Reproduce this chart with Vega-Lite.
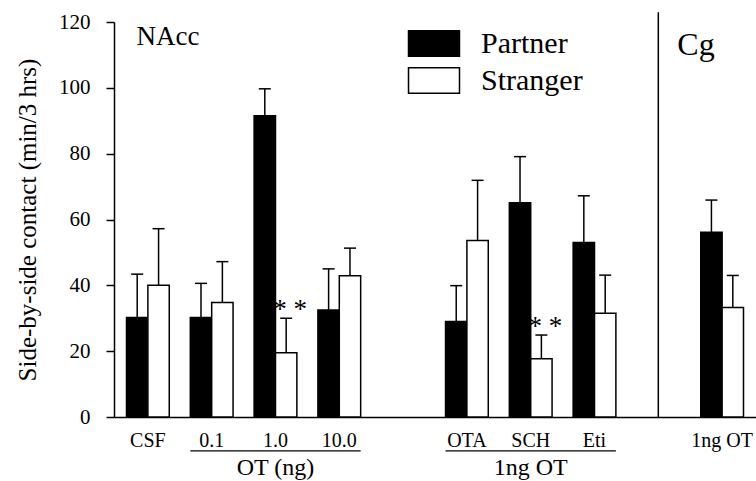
{
  "$schema": "https://vega.github.io/schema/vega-lite/v6.json",
  "width": 642,
  "height": 395,
  "autosize": "none",
  "padding": {"left": 114, "top": 22, "right": 0, "bottom": 64},
  "background": "white",
  "config": {
    "view": {"stroke": null},
    "font": "Liberation Serif",
    "axis": {"labelFont": "Liberation Serif", "titleFont": "Liberation Serif", "labelColor": "black", "titleColor": "black", "domainColor": "black", "tickColor": "black", "domainWidth": 1.5, "tickWidth": 1.5, "grid": false},
    "legend": {"labelFont": "Liberation Serif"},
    "text": {"font": "Liberation Serif"}
  },
  "datasets": {
    "bars": [
      {"site": "NAcc", "slot": "CSF", "group": "Partner", "mean": 30.2, "hi": 43.4, "sig": ""},
      {"site": "NAcc", "slot": "CSF", "group": "Stranger", "mean": 40.0, "hi": 57.2, "sig": ""},
      {"site": "NAcc", "slot": "0.1", "group": "Partner", "mean": 30.2, "hi": 40.6, "sig": ""},
      {"site": "NAcc", "slot": "0.1", "group": "Stranger", "mean": 34.8, "hi": 47.2, "sig": ""},
      {"site": "NAcc", "slot": "1.0", "group": "Partner", "mean": 91.5, "hi": 99.7, "sig": ""},
      {"site": "NAcc", "slot": "1.0", "group": "Stranger", "mean": 19.5, "hi": 30.0, "sig": "* *"},
      {"site": "NAcc", "slot": "10.0", "group": "Partner", "mean": 32.5, "hi": 45.0, "sig": ""},
      {"site": "NAcc", "slot": "10.0", "group": "Stranger", "mean": 42.9, "hi": 51.3, "sig": ""},
      {"site": "NAcc", "slot": "OTA", "group": "Partner", "mean": 29.0, "hi": 39.9, "sig": ""},
      {"site": "NAcc", "slot": "OTA", "group": "Stranger", "mean": 53.6, "hi": 71.9, "sig": ""},
      {"site": "NAcc", "slot": "SCH", "group": "Partner", "mean": 65.1, "hi": 79.1, "sig": ""},
      {"site": "NAcc", "slot": "SCH", "group": "Stranger", "mean": 17.7, "hi": 24.9, "sig": "* *"},
      {"site": "NAcc", "slot": "Eti", "group": "Partner", "mean": 53.0, "hi": 67.2, "sig": ""},
      {"site": "NAcc", "slot": "Eti", "group": "Stranger", "mean": 31.5, "hi": 43.1, "sig": ""},
      {"site": "Cg", "slot": "1ng OT", "group": "Partner", "mean": 56.1, "hi": 65.9, "sig": ""},
      {"site": "Cg", "slot": "1ng OT", "group": "Stranger", "mean": 33.3, "hi": 43.0, "sig": ""}
    ],
    "groups": [
      {"label": "OT (ng)", "from": "0.1", "to": "10.0", "center": "1.0"},
      {"label": "1ng OT", "from": "OTA", "to": "Eti", "center": "SCH"}
    ],
    "sites": [
      {"label": "NAcc", "slot": "CSF"}
    ],
    "sites2": [
      {"label": "Cg", "slot": "gap2"}
    ]
  },
  "layer": [
    {
      "data": {"name": "bars"},
      "mark": {"type": "bar", "stroke": "black", "strokeWidth": 1.5},
      "encoding": {
        "x": {"field": "slot", "type": "nominal", "sort": null,
          "scale": {"domain": ["CSF", "0.1", "1.0", "10.0", "gap1", "OTA", "SCH", "Eti", "gap2", "1ng OT"], "paddingInner": 0.33, "paddingOuter": 0.196},
          "axis": {"title": null, "ticks": false, "labelAngle": 0, "labelFontSize": 20, "labelPadding": 13, "labelExpr": "slice(datum.value,0,3)=='gap' ? '' : datum.label"}},
        "xOffset": {"field": "group", "type": "nominal", "scale": {"domain": ["Partner", "Stranger"], "paddingInner": 0, "paddingOuter": 0}},
        "y": {"field": "mean", "type": "quantitative",
          "scale": {"domain": [0, 120], "nice": false, "zero": true},
          "axis": {"title": "Side-by-side contact (min/3 hrs)", "values": [0, 20, 40, 60, 80, 100, 120], "labelFontSize": 21, "labelPadding": 16, "tickSize": 8, "titleFontSize": 25, "titleFontWeight": "normal", "titlePadding": 18}},
        "fill": {"field": "group", "type": "nominal",
          "scale": {"domain": ["Partner", "Stranger"], "range": ["black", "white"]},
          "legend": {"orient": "none", "legendX": 305, "legendY": 6.5, "title": null, "symbolType": "M-2,-1H2V1H-2Z", "symbolSize": 650, "symbolStrokeColor": "black", "symbolStrokeWidth": 1.5, "symbolOpacity": 1, "labelFontSize": 30, "labelColor": "black", "labelOffset": 32, "rowPadding": 5, "padding": 0}}
      }
    },
    {
      "data": {"name": "bars"},
      "mark": {"type": "rule", "color": "black", "strokeWidth": 1.5},
      "encoding": {
        "x": {"field": "slot", "type": "nominal", "sort": null},
        "xOffset": {"field": "group", "type": "nominal"},
        "y": {"field": "mean", "type": "quantitative"},
        "y2": {"field": "hi"}
      }
    },
    {
      "data": {"name": "bars"},
      "mark": {"type": "tick", "color": "black", "thickness": 1.5, "size": 12, "orient": "horizontal", "opacity": 1},
      "encoding": {
        "x": {"field": "slot", "type": "nominal", "sort": null},
        "xOffset": {"field": "group", "type": "nominal"},
        "y": {"field": "hi", "type": "quantitative"}
      }
    },
    {
      "data": {"name": "bars"},
      "transform": [{"filter": "datum.sig != ''"}],
      "mark": {"type": "text", "fontSize": 27, "baseline": "alphabetic", "dy": 0, "dx": 4, "color": "black"},
      "encoding": {
        "x": {"field": "slot", "type": "nominal", "sort": null},
        "xOffset": {"field": "group", "type": "nominal"},
        "y": {"field": "hi", "type": "quantitative"},
        "text": {"field": "sig"}
      }
    },
    {
      "data": {"name": "groups"},
      "mark": {"type": "rule", "color": "black", "strokeWidth": 1.2},
      "encoding": {
        "x": {"field": "from", "type": "nominal", "sort": null, "bandPosition": 0},
        "x2": {"field": "to", "bandPosition": 1},
        "y": {"datum": -10.3}
      }
    },
    {
      "data": {"name": "groups"},
      "mark": {"type": "text", "fontSize": 24, "baseline": "middle", "color": "black"},
      "encoding": {
        "x": {"field": "center", "type": "nominal", "sort": null},
        "y": {"datum": -15.5},
        "text": {"field": "label"}
      }
    },
    {
      "data": {"values": [{"line": "divider"}]},
      "mark": {"type": "rule", "color": "black", "strokeWidth": 1.5},
      "encoding": {
        "x": {"datum": "gap2"},
        "y": {"datum": 0},
        "y2": {"datum": 123}
      }
    },
    {
      "data": {"name": "sites"},
      "mark": {"type": "text", "fontSize": 27, "align": "left", "baseline": "alphabetic", "dx": 10, "color": "black"},
      "encoding": {
        "x": {"field": "slot", "type": "nominal", "sort": null, "bandPosition": 0},
        "y": {"datum": 113},
        "text": {"field": "label"}
      }
    },
    {
      "data": {"name": "sites2"},
      "mark": {"type": "text", "fontSize": 32, "align": "left", "baseline": "alphabetic", "dx": 19, "color": "black"},
      "encoding": {
        "x": {"field": "slot", "type": "nominal", "sort": null},
        "y": {"datum": 110},
        "text": {"field": "label"}
      }
    }
  ]
}
